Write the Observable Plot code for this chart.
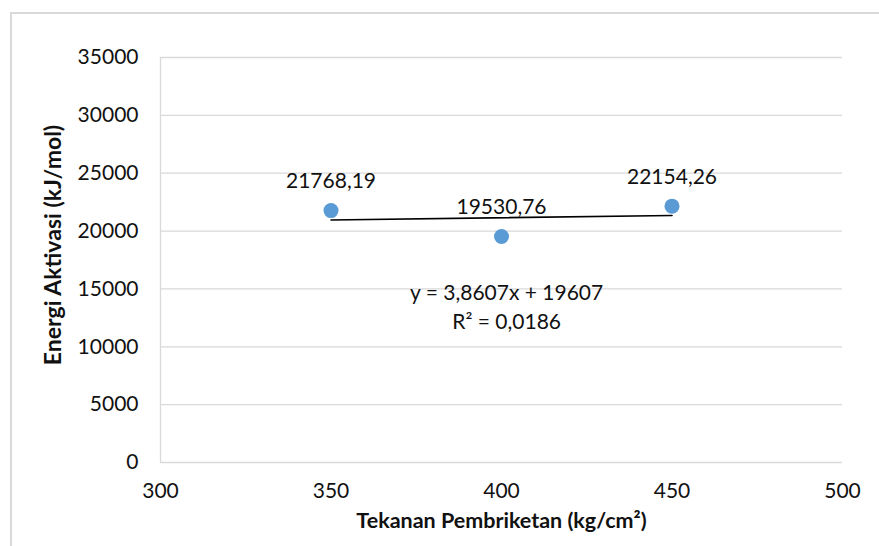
<!DOCTYPE html>
<html>
<head>
<meta charset="utf-8">
<script src="https://cdn.jsdelivr.net/npm/d3@7"></script>
<script src="https://cdn.jsdelivr.net/npm/@observablehq/plot@0.6"></script>
<style>
  body { margin: 0; background: #fff; }
  #wrap { position: relative; width: 879px; height: 546px; overflow: hidden; }
  #wrap svg { position: absolute; left: 0; top: 0; }
  #border {
    position: absolute; left: 10px; top: 12px; width: 900px; height: 600px;
    border-left: 2px solid #d9d9d9; border-top: 2px solid #d9d9d9;
    pointer-events: none;
  }
</style>
</head>
<body>
<div id="wrap"></div>
<script>
// Briquetting pressure (kg/cm²) and activation energy (kJ/mol)
const pressure = [350, 400, 450];
const energy = [21768.19, 19530.76, 22154.26];
const energyLabels = ["21768,19", "19530,76", "22154,26"];

// Axis ticks
const xTicks = [300, 350, 400, 450, 500];
const yTicks = [0, 5000, 10000, 15000, 20000, 25000, 30000, 35000];

// Trendline equation text, placed in data units
const equationLines = ["y = 3,8607x + 19607", "R² = 0,0186"];
const equationX = [401.5, 401.5];
const equationY = [14600, 12100];

const xTitle = "Tekanan Pembriketan (kg/cm²)";
const yTitle = "Energi Aktivasi (kJ/mol)";

const points = pressure.map((p, i) => ({x: p, y: energy[i], label: energyLabels[i]}));
const equation = equationLines.map((t, i) => ({x: equationX[i], y: equationY[i], text: t}));

const font = "Lato, 'Open Sans', sans-serif";
const grid = "#d9d9d9";
const ink = "#111";

const chart = Plot.plot({
  width: 879,
  height: 546,
  marginLeft: 160,
  marginRight: 37,
  marginTop: 57,
  marginBottom: 84,
  style: {fontFamily: font, background: "transparent", color: ink},
  x: {domain: [300, 500], ticks: xTicks},
  y: {domain: [0, 35000], ticks: yTicks},
  marks: [
    Plot.ruleY(yTicks, {stroke: grid, strokeWidth: 1.3}),
    Plot.ruleX([300], {stroke: grid, strokeWidth: 1.3}),
    Plot.axisY(yTicks, {tickSize: 0, tickPadding: 22, fontSize: 21, tickFormat: d => String(d), label: null}),
    Plot.axisX(xTicks, {tickSize: 0, tickPadding: 21, fontSize: 21, tickFormat: d => String(d), label: null}),
    Plot.linearRegressionY(points, {x: "x", y: "y", ci: 0, stroke: "#000", strokeWidth: 1.6}),
    Plot.dot(points, {x: "x", y: "y", r: 7.5, fill: "#5b9bd5", stroke: "none"}),
    Plot.text(points, {x: "x", y: "y", text: "label", dy: -29, fontSize: 21, fill: ink}),
    Plot.text(equation, {x: "x", y: "y", text: "text", fontSize: 21, fill: ink}),
    Plot.text([xTitle], {frameAnchor: "bottom", textAnchor: "middle", dy: 65, fontSize: 21.5, fontWeight: "bold", fill: ink}),
    Plot.text([yTitle], {frameAnchor: "left", textAnchor: "middle", dx: -107, dy: -15, rotate: -90, fontSize: 23, fontWeight: "bold", fill: ink})
  ]
});

const wrap = document.getElementById("wrap");
wrap.appendChild(chart);
const border = document.createElement("div");
border.id = "border";
wrap.appendChild(border);
</script>
</body>
</html>
